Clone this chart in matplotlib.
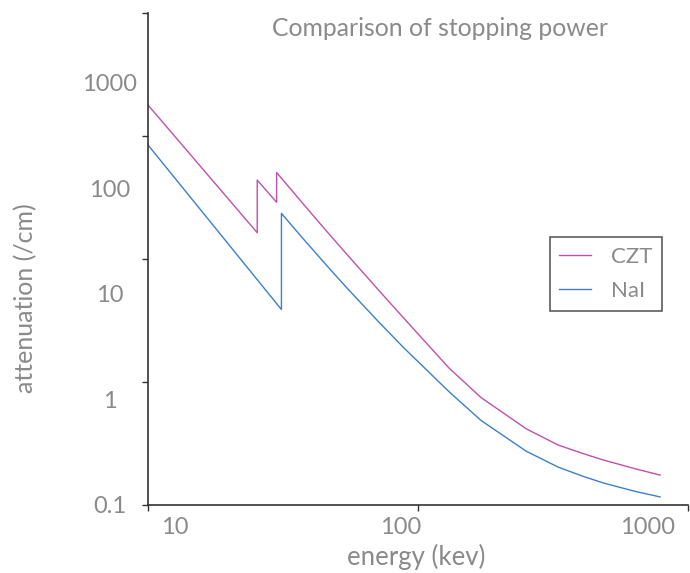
import numpy as np
import matplotlib
matplotlib.use("Agg")
import matplotlib.pyplot as plt
from matplotlib.ticker import FixedLocator, NullFormatter, NullLocator

# values (energy in keV, attenuation in /cm)
energy_czt = [10, 26.7, 26.7, 31.8, 31.8, 40, 50, 60, 80, 100, 150, 200, 300, 400, 500, 600, 800, 1000]
atten_czt = [612, 37.7, 119, 73.2, 140, 72.6, 38.6, 23.3, 10.6, 5.80, 1.96, 1.03, 0.522, 0.366, 0.304, 0.264, 0.218, 0.190]
energy_nai = [10, 33.2, 33.2, 40, 50, 60, 80, 100, 150, 200, 300, 400, 500, 600, 800, 1000]
atten_nai = [256, 7.05, 57.5, 33.9, 18.3, 11.2, 5.31, 3.04, 1.17, 0.625, 0.320, 0.226, 0.185, 0.160, 0.133, 0.118]

ytick_vals = [0.1, 1, 10, 100, 1000]
ytick_labels = ["0.1", "1", "10", "100", "1000"]
xtick_labels = ["10", "100", "1000"]
# where the x labels sit along the axis (fraction of width), as in the original
xtick_label_pos = [0.049, 0.4685, 0.925]

grey = "#8a8a8a"
dark = "#333333"
plt.rcParams["font.family"] = ["Lato", "DejaVu Sans"]

fig = plt.figure(figsize=(6.9, 5.73), dpi=100)
ax = fig.add_axes([148 / 690, (573 - 504.5) / 573, 540 / 690, 491.5 / 573])

ax.plot(energy_czt, atten_czt, color="#c250a9", lw=1.0, label="CZT")
ax.plot(energy_nai, atten_nai, color="#3b7fcf", lw=1.0, label="NaI")

ax.set_xscale("log")
ax.set_yscale("log")
ax.set_xlim(10, 1285)
ax.set_ylim(0.1, 4560)

for s in ["top", "right"]:
    ax.spines[s].set_visible(False)
for s in ["left", "bottom"]:
    ax.spines[s].set_color(dark)
    ax.spines[s].set_linewidth(1.2)

# tick marks split each axis evenly
ax.xaxis.set_major_locator(FixedLocator(np.geomspace(10, 1285, 3)))
ax.xaxis.set_major_formatter(NullFormatter())
ax.xaxis.set_minor_locator(NullLocator())
ax.tick_params(axis="x", length=4, width=1, color=dark)

ax.yaxis.remove_overlapping_locs = False
ax.set_yticks(ytick_vals, ytick_labels)
ax.yaxis.set_minor_locator(FixedLocator(np.geomspace(0.1, 4560, 5)))
ax.yaxis.set_minor_formatter(NullFormatter())
ax.tick_params(axis="y", which="major", length=0, pad=27.4, labelsize=17, labelcolor=grey)
ax.tick_params(axis="y", which="minor", length=4, width=1, color=dark)
for t in ax.get_yticklabels():
    t.set_ha("center")

for pos, lab in zip(xtick_label_pos, xtick_labels):
    ax.text(pos, -0.0478, lab, transform=ax.transAxes, ha="center", va="center",
            fontsize=17, color=grey)

ax.set_xlabel("energy (kev)", fontsize=18.5, color=grey)
ax.xaxis.set_label_coords(0.496, -0.107)
ax.xaxis.label.set_va("center")
ax.set_ylabel("attenuation (/cm)", fontsize=18, color=grey)
ax.yaxis.set_label_coords(-0.226, 0.42)
ax.yaxis.label.set_va("center")

fig.text(440.5 / 690, 1 - 28 / 573, "Comparison of stopping power", ha="center", va="center",
         fontsize=17.8, color=grey)

leg = ax.legend(loc="center", bbox_to_anchor=(0.848, 0.469), fontsize=16, frameon=True,
                fancybox=False, edgecolor=dark, handlelength=1.45, handletextpad=0.9,
                labelspacing=0.65, borderpad=0.42)
leg.get_frame().set_linewidth(1.2)
for t in leg.get_texts():
    t.set_color(grey)

fig.savefig("out.png", dpi=100)
